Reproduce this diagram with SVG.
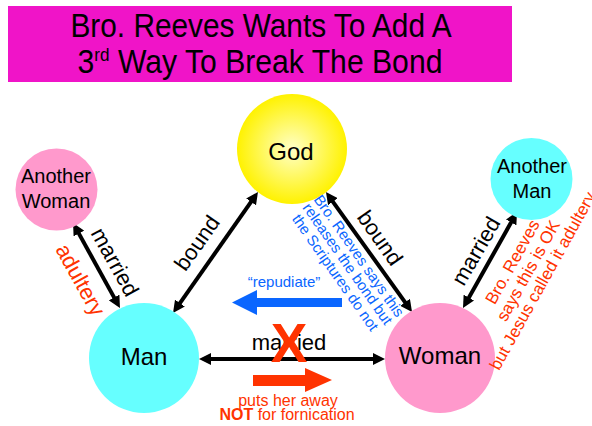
<svg xmlns="http://www.w3.org/2000/svg" width="592" height="426" viewBox="0 0 592 426">
<defs>
<radialGradient id="godGrad" cx="50%" cy="50%" r="50%">
<stop offset="0%" stop-color="#FFFFC8"/>
<stop offset="100%" stop-color="#FFF200"/>
</radialGradient>
<marker id="ah" viewBox="0 0 12 12" markerWidth="12" markerHeight="12" refX="3" refY="6" markerUnits="userSpaceOnUse" orient="auto-start-reverse">
<path d="M0,0 L12,6 L0,12 z" fill="#000"/>
</marker>
<style>
text{font-family:"Liberation Sans",Arial,Helvetica,sans-serif;}
.conn{stroke:#000;stroke-width:4;fill:none;marker-start:url(#ah);marker-end:url(#ah);}
.pink{fill:#FF99CC;}
.cyan{fill:#66FFFF;}
.lbl{font-size:22px;fill:#000;text-anchor:middle;}
.node{font-size:24px;fill:#000;text-anchor:middle;}
.small{font-size:20px;fill:#000;text-anchor:middle;}
.red{fill:#FF3300;}
.blue{fill:#0A66FF;}
</style>
</defs>
<rect width="592" height="426" fill="#fff"/>
<g id="title">
<rect x="8" y="6" width="504" height="76" fill="#F014C8"/>
<text transform="translate(261,37) scale(0.89,1)" text-anchor="middle" font-size="33.5" fill="#000">Bro. Reeves Wants To Add A</text>
<text transform="translate(260,73) scale(0.9,1)" text-anchor="middle" font-size="33.5" fill="#000">3<tspan font-size="19" dy="-12">rd</tspan><tspan dy="12"> Way To Break The Bond</tspan></text>
</g>
<g id="connectors">
<line class="conn" x1="77.4" y1="230.9" x2="115.6" y2="300.1"/>
<line class="conn" x1="178.2" y1="305.6" x2="252.8" y2="199.4"/>
<line class="conn" x1="331.2" y1="199.3" x2="406.8" y2="304.7"/>
<line class="conn" x1="467.4" y1="300.2" x2="512.6" y2="219.8"/>
<line class="conn" x1="208" y1="359" x2="376" y2="359"/>
</g>
<g id="god">
<circle cx="292" cy="149" r="55" fill="url(#godGrad)"/>
<text class="node" x="291" y="160" font-size="23">God</text>
</g>
<g id="another-woman">
<circle class="pink" cx="56.5" cy="189.5" r="41"/>
<text class="small" x="56" y="183">Another</text>
<text class="small" x="56" y="208">Woman</text>
</g>
<g id="another-man">
<circle class="cyan" cx="531.5" cy="179" r="41"/>
<text class="small" x="532" y="173">Another</text>
<text class="small" x="532" y="198">Man</text>
</g>
<g id="man">
<circle class="cyan" cx="144" cy="358" r="55"/>
<text class="node" x="144" y="365">Man</text>
</g>
<g id="woman">
<circle class="pink" cx="440" cy="358" r="55"/>
<text class="node" x="440" y="364">Woman</text>
</g>
<g id="labels">
<text class="lbl" transform="translate(115,262) rotate(61)" y="7.5">married</text>
<text class="lbl red" transform="translate(80,280) rotate(61)" y="7" font-size="20">adultery</text>
<text class="lbl" transform="translate(197,243) rotate(-55)" y="7.5">bound</text>
<text class="lbl" transform="translate(380,238) rotate(55)" y="7.5">bound</text>
<text class="lbl" transform="translate(476,251) rotate(-60)" y="7.5">married</text>
<text class="lbl" x="289" y="350" font-size="24">married</text>
<text x="289" y="362" text-anchor="middle" font-size="55" font-weight="bold" fill="#FF3300">X</text>
</g>
<g id="repudiate">
<polygon class="blue" points="232,302.5 257,290 257,298 342,298 342,307 257,307 257,315"/>
<text class="blue" x="284" y="287" text-anchor="middle" font-size="15">“repudiate”</text>
<g transform="translate(347.5,264) rotate(55)" font-size="15" text-anchor="middle">
<text class="blue" x="0" y="-9">Bro. Reeves says this</text>
<text class="blue" x="0" y="5">releases the bond but</text>
<text class="blue" x="0" y="20">the Scriptures do not</text>
</g>
</g>
<g id="puts-away">
<polygon class="red" points="253,375 305,375 305,368 332,380 305,392 305,386 253,386"/>
<text class="red" x="288" y="406" text-anchor="middle" font-size="16">puts her away</text>
<text class="red" x="287" y="420" text-anchor="middle" font-size="16"><tspan font-weight="bold">NOT</tspan> for fornication</text>
</g>
<g id="reeves-ok" transform="translate(528,270.5) rotate(-61)" font-size="17" text-anchor="middle">
<text class="red" x="0" y="-12">Bro. Reeves</text>
<text class="red" x="0" y="6">says this is OK</text>
<text class="red" x="-2" y="23.5">but Jesus called it adultery</text>
</g>
</svg>
